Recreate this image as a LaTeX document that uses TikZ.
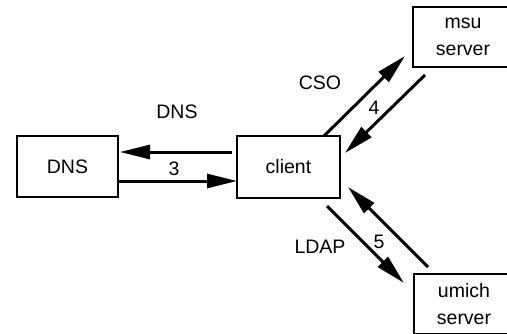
\documentclass[tikz,border=0pt]{standalone}
\usepackage{fontspec}
\setmainfont{Liberation Sans}
\usetikzlibrary{arrows.meta}
\begin{document}
\begin{tikzpicture}[x=1pt,y=-1pt,
  box/.style={draw,line width=1.8pt,minimum width=101pt,minimum height=60pt,
    inner sep=0pt,align=center,font=\fontsize{19.5}{27}\selectfont},
  lbl/.style={inner sep=0pt,font=\fontsize{19.5}{22}\selectfont},
  arr/.style={line width=3pt,-{Triangle[length=30pt,width=14pt]}}]
\useasboundingbox (0,0) rectangle (507,333);
% hosts
\node[box,minimum width=101pt,minimum height=61pt] (dns) at (67.5,166.5) {DNS};
\node[box,minimum width=103pt,minimum height=62pt] (client) at (288.5,167) {client};
\node[box,minimum width=100pt] (msu) at (463,37) {msu\\server};
\node[box,minimum width=100pt] (umich) at (464,304) {umich\\server};
% end points of the request / reply arrows
\coordinate (c1) at (232,152);  \coordinate (d1) at (120,152);
\coordinate (d2) at (118,181);  \coordinate (c2) at (237,181);
\coordinate (c3) at (324,136);  \coordinate (m1) at (405,56);
\coordinate (m2) at (425,75);   \coordinate (c4) at (345,153);
\coordinate (c5) at (327,206);  \coordinate (u1) at (404,283);
\coordinate (u2) at (428,267);  \coordinate (c6) at (348,187);
\draw[arr] (c1) -- (d1);
\draw[arr] (d2) -- (c2);
\draw[arr] (c3) -- (m1);
\draw[arr] (m2) -- (c4);
\draw[arr] (c5) -- (u1);
\draw[arr] (u2) -- (c6);
% labels
\node[lbl] (ldns) at (177,112) {DNS};
\node[lbl] (l3) at (174,169) {3};
\node[lbl] (lcso) at (320,83) {CSO};
\node[lbl] (l4) at (374,108) {4};
\node[lbl] (lldap) at (320,247) {LDAP};
\node[lbl] (l5) at (379,242) {5};
\end{tikzpicture}
\end{document}
